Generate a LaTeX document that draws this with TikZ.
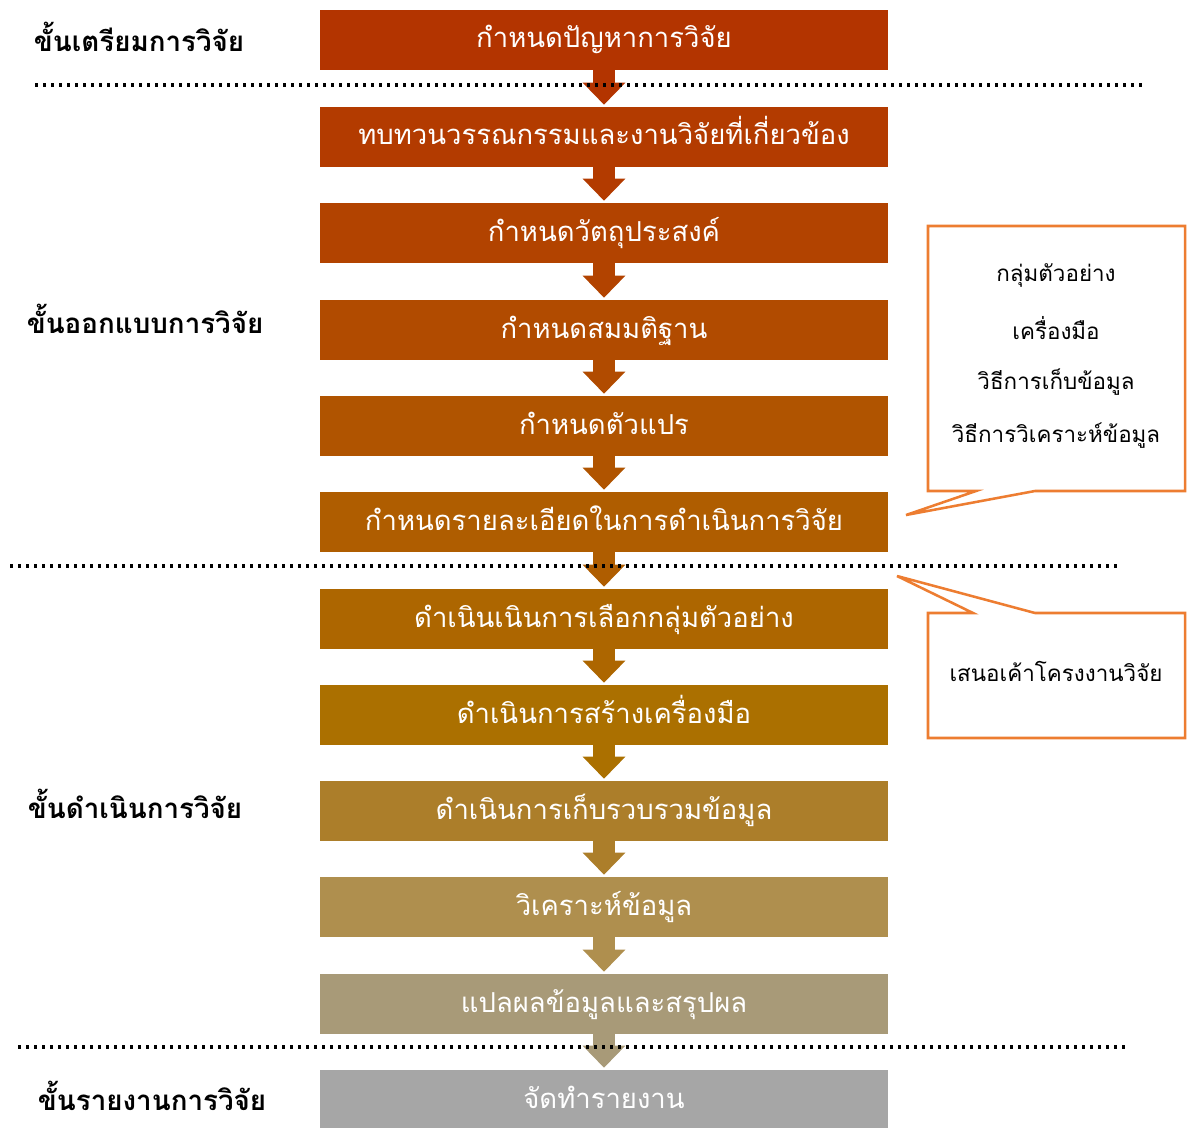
\documentclass[tikz,border=0pt]{standalone}
\usepackage{fontspec}
\newfontfamily\thaifont[Script=Thai]{Loma}
\usetikzlibrary{arrows.meta}

\definecolor{stepA}{HTML}{B33400}
\definecolor{stepB}{HTML}{B33B00}
\definecolor{stepC}{HTML}{B24300}
\definecolor{stepD}{HTML}{B14B00}
\definecolor{stepE}{HTML}{B05400}
\definecolor{stepF}{HTML}{AF5D00}
\definecolor{stepG}{HTML}{AD6600}
\definecolor{stepH}{HTML}{AB7000}
\definecolor{stepI}{HTML}{AC7E2A}
\definecolor{stepJ}{HTML}{AF8F4E}
\definecolor{stepK}{HTML}{A89A78}
\definecolor{stepL}{HTML}{A6A6A6}
\definecolor{calloutline}{HTML}{ED7D31}

\begin{document}
\begin{tikzpicture}[x=0.75pt,y=-0.75pt,
    stepbox/.style={fill=#1, text=white, inner sep=0pt,
        minimum width=426pt, minimum height=45pt,
        text height=16pt, text depth=4pt,
        font=\thaifont\fontsize{20.6}{24}\selectfont},
    flow/.style={draw=#1, line width=16.5pt,
        -{Triangle[length=16.5pt,width=31pt]}, shorten >=1.5pt},
    phase/.style={font=\thaifont\bfseries\fontsize{20.8}{24}\selectfont},
    note/.style={font=\thaifont\fontsize{16.8}{20}\selectfont},
    callout/.style={draw=calloutline, line width=1.9pt, fill=white},
    divider/.style={line width=2.3pt, dash pattern=on 2.6pt off 3.4pt}]
    \useasboundingbox (0,0) rectangle (1187,1127);

    % process boxes
    \draw (604,40)   node (s1)  [stepbox=stepA] {กำหนดปัญหาการวิจัย};
    \draw (604,137)  node (s2)  [stepbox=stepB] {ทบทวนวรรณกรรมและงานวิจัยที่เกี่ยวข้อง};
    \draw (604,233)  node (s3)  [stepbox=stepC] {กำหนดวัตถุประสงค์};
    \draw (604,330)  node (s4)  [stepbox=stepD] {กำหนดสมมติฐาน};
    \draw (604,426)  node (s5)  [stepbox=stepE] {กำหนดตัวแปร};
    \draw (604,522)  node (s6)  [stepbox=stepF] {กำหนดรายละเอียดในการดำเนินการวิจัย};
    \draw (604,619)  node (s7)  [stepbox=stepG] {ดำเนินเนินการเลือกกลุ่มตัวอย่าง};
    \draw (604,715)  node (s8)  [stepbox=stepH] {ดำเนินการสร้างเครื่องมือ};
    \draw (604,811)  node (s9)  [stepbox=stepI] {ดำเนินการเก็บรวบรวมข้อมูล};
    \draw (604,907)  node (s10) [stepbox=stepJ] {วิเคราะห์ข้อมูล};
    \draw (604,1004) node (s11) [stepbox=stepK] {แปลผลข้อมูลและสรุปผล};
    \draw (604,1100) node (s12) [stepbox=stepL] {จัดทำรายงาน};

    \foreach \a/\b/\c in {s1/s2/stepA, s2/s3/stepB, s3/s4/stepC, s4/s5/stepD,
        s5/s6/stepE, s6/s7/stepF, s7/s8/stepG, s8/s9/stepH, s9/s10/stepI,
        s10/s11/stepJ, s11/s12/stepK}
        \draw[flow=\c] (\a.south) -- (\b.north);

    % phase labels
    \node (prep)   [phase] at (139,37)   {ขั้นเตรียมการวิจัย};
    \node (design) [phase] at (145,319)  {ขั้นออกแบบการวิจัย};
    \node (run)    [phase] at (135,804)  {ขั้นดำเนินการวิจัย};
    \node (report) [phase] at (152,1096) {ขั้นรายงานการวิจัย};

    % phase dividers
    \draw[divider] (35,85) -- (1143,85);
    \draw[divider] (10,566) -- (1118,566);
    \draw[divider] (18,1047) -- (1127,1047);

    % callouts
    \draw[callout] (928,226) -- (1185,226) -- (1185,491) -- (1035,491)
        -- (906,515) -- (976,491) -- (928,491) -- cycle;
    \node (n1) [note] at (1056,275) {กลุ่มตัวอย่าง};
    \node (n2) [note] at (1056,328) {เครื่องมือ};
    \node (n3) [note] at (1056,382) {วิธีการเก็บข้อมูล};
    \node (n4) [note] at (1056,436) {วิธีการวิเคราะห์ข้อมูล};

    \draw[callout] (928,613) -- (973,613) -- (897,576) -- (1035,613)
        -- (1185,613) -- (1185,738) -- (928,738) -- cycle;
    \node (n5) [note] at (1056,671) {เสนอเค้าโครงงานวิจัย};
\end{tikzpicture}
\end{document}
